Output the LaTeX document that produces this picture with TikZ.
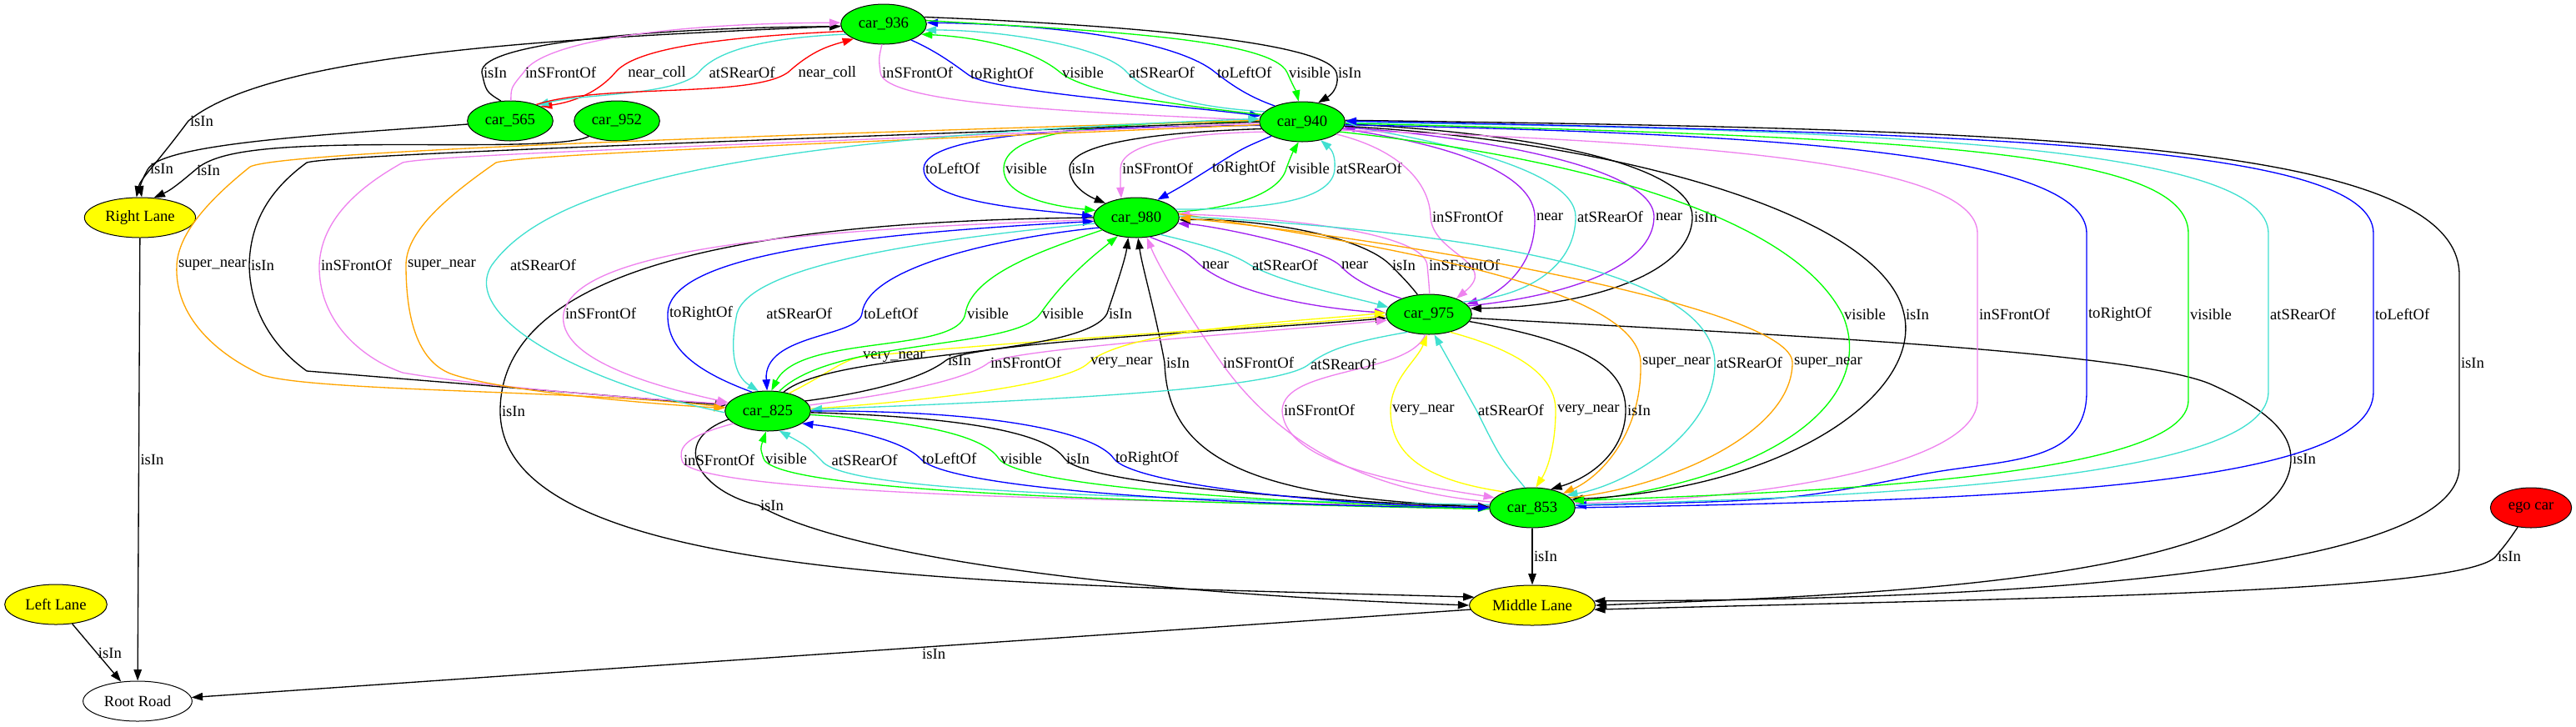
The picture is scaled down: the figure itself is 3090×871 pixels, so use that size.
\documentclass[tikz,border=0pt]{standalone}
\usepackage{fontspec}
\setmainfont{Liberation Serif}
\usetikzlibrary{shapes.geometric,arrows.meta}
\definecolor{gvgreen}{HTML}{00FF00}
\definecolor{gvyellow}{HTML}{FFFF00}
\definecolor{gvred}{HTML}{FF0000}
\definecolor{gvviolet}{HTML}{EE82EE}
\definecolor{gvturq}{HTML}{40E0D0}
\definecolor{gvblue}{HTML}{0000FF}
\definecolor{gvpurple}{HTML}{A020F0}
\definecolor{gvorange}{HTML}{FFA500}
\begin{document}
\begin{tikzpicture}[x=0.75bp,y=-0.75bp,
  every node/.style={font=\fontsize{14bp}{16bp}\selectfont},
  car/.style={ellipse,draw,line width=0.75bp,fill=gvgreen,minimum width=77bp,minimum height=36bp,inner sep=0pt},
  egocar/.style={car,fill=gvred,minimum width=73bp},
  lane/.style={ellipse,draw,line width=0.75bp,fill=gvyellow,minimum height=36bp,inner sep=0pt},
  road/.style={ellipse,draw,line width=0.75bp,fill=white,minimum width=98bp,minimum height=36bp,inner sep=0pt},
  lbl/.style={anchor=west,inner sep=1bp,text=black},
  rel/.style={line width=1bp,-{Triangle[length=10bp,width=7bp]}},
  isin/.style={rel,black},
  infront/.style={rel,gvviolet},
  atrear/.style={rel,gvturq},
  toleft/.style={rel,gvblue},
  toright/.style={rel,gvblue},
  vis/.style={rel,gvgreen},
  nearr/.style={rel,gvpurple},
  nearcoll/.style={rel,gvred},
  supernear/.style={rel,gvorange},
  verynear/.style={rel,gvyellow}]
\useasboundingbox (0,0) rectangle (3090,871);

\node[car] (c936) at (1060,29) {car\_936};
\node[car] (c565) at (612,145) {car\_565};
\node[car] (c952) at (740,145) {car\_952};
\node[car] (c940) at (1562,146) {car\_940};
\node[car] (c980) at (1363,261) {car\_980};
\node[car] (c975) at (1714,377) {car\_975};
\node[car] (c825) at (921,493) {car\_825};
\node[car] (c853) at (1838,609) {car\_853};
\node[egocar] (ego) at (3036,609) {ego car};
\node[lane,minimum width=100bp] (rlane) at (168,261) {Right Lane};
\node[lane,minimum width=113bp] (mlane) at (1838,726) {Middle Lane};
\node[lane,minimum width=92bp] (llane) at (67,725) {Left Lane};
\node[road] (road) at (165,841) {Root Road};

\draw[isin] (c936) .. controls (700,45) and (330,60) .. (226,145) node[lbl]{isIn} .. controls (185,200) and (168,215) .. (rlane.100);
\draw[isin] (c565) .. controls (420,160) and (200,170) .. (178,202) node[lbl]{isIn} .. controls (170,215) and (168,225) .. (rlane.85);
\draw[isin] (c952) .. controls (680,178) and (520,172) .. (420,174) .. controls (300,176) and (255,185) .. (234,204) node[lbl]{isIn} .. controls (215,220) and (205,228) .. (rlane.55);
\draw[isin] (rlane) -- (road) node[lbl,midway]{isIn};
\draw[isin] (llane) -- (road) node[lbl,midway]{isIn};
\draw[isin] (mlane) -- (road) node[lbl,pos=0.43,anchor=north west]{isIn};
\draw[isin] (c853) -- (mlane) node[lbl,midway]{isIn};
\draw[isin] (c980.180) .. controls (900,265) and (600,320) .. (600,493) node[lbl]{isIn} .. controls (600,700) and (1200,700) .. (mlane.172);
\draw[isin] (c825.192) .. controls (800,530) and (840,590) .. (910,606) node[lbl]{isIn} .. controls (1000,660) and (1300,710) .. (mlane.180);
\draw[isin] (c940.2) .. controls (2400,155) and (2950,165) .. (2950,330) -- (2950,435) node[lbl]{isIn} -- (2950,560) .. controls (2950,700) and (2300,720) .. (mlane.4);
\draw[isin] (c975.-5) .. controls (2100,400) and (2550,420) .. (2650,460) .. controls (2730,495) and (2748,525) .. (2748,550) node[lbl]{isIn} .. controls (2748,700) and (2200,715) .. (mlane.0);
\draw[isin] (ego) .. controls (3008,650) .. (2994,667) node[lbl]{isIn} .. controls (2960,712) and (2400,718) .. (mlane.-4);

\draw[isin] (c565.115) .. controls (583,110) .. (578,87) node[lbl]{isIn} .. controls (574,50) and (800,33) .. (c936.183);
\draw[infront] (c565.88) .. controls (613,105) .. (628,87) node[lbl]{inSFrontOf} .. controls (650,50) and (800,28) .. (c936.178);
\draw[nearcoll] (c936.190) .. controls (850,45) and (760,60) .. (738,87) node[lbl,xshift=10bp]{near\_coll} .. controls (718,110) and (690,122) .. (c565.25);
\draw[atrear] (c936.195) .. controls (920,45) and (860,60) .. (838,87) node[lbl,xshift=8bp]{atSRearOf} .. controls (812,115) and (700,112) .. (c565.30);
\draw[nearcoll] (c565.32) .. controls (720,100) and (900,118) .. (945,87) node[lbl,xshift=8bp]{near\_coll} .. controls (975,60) and (995,55) .. (c936.206);

\draw[infront] (c936.265) .. controls (1054,70) .. (1056,87) node[lbl]{inSFrontOf} .. controls (1060,125) and (1300,135) .. (c940.178);
\draw[toright] (c936.-30) .. controls (1125,62) and (1148,80) .. (1162,90) node[lbl]{toRightOf} .. controls (1190,110) and (1400,125) .. (c940.172);
\draw[vis] (c940.170) .. controls (1400,125) and (1300,110) .. (1272,87) node[lbl]{visible} .. controls (1240,60) and (1180,45) .. (c936.-15);
\draw[atrear] (c940.165) .. controls (1420,128) and (1375,110) .. (1352,87) node[lbl]{atSRearOf} .. controls (1325,55) and (1200,36) .. (c936.-8);
\draw[toleft] (c940.150) .. controls (1495,115) and (1475,100) .. (1458,87) node[lbl]{toLeftOf} .. controls (1420,55) and (1300,30) .. (c936.2);
\draw[vis] (c936.5) .. controls (1300,36) and (1525,45) .. (1544,87) node[lbl]{visible} .. controls (1551,103) and (1555,110) .. (c940.100);
\draw[isin] (c936.10) .. controls (1350,30) and (1592,50) .. (1603,87) node[lbl]{isIn} .. controls (1607,100) and (1600,112) .. (c940.50);

\draw[toleft] (c940.185) .. controls (1300,152) and (1110,160) .. (1108,202) node[lbl]{toLeftOf} .. controls (1107,245) and (1250,252) .. (c980.178);
\draw[vis] (c940.180) .. controls (1300,146) and (1205,160) .. (1204,202) node[lbl]{visible} .. controls (1203,235) and (1260,247) .. (c980.170);
\draw[isin] (c940.190) .. controls (1400,158) and (1284,170) .. (1283,202) node[lbl]{isIn} .. controls (1283,220) and (1300,233) .. (c980.155);
\draw[infront] (c940.195) .. controls (1420,160) and (1345,172) .. (1344,202) node[lbl]{inSFrontOf} .. controls (1344,215) and (1344,225) .. (c980.128);
\draw[toright] (c940.205) .. controls (1490,178) .. (1452,202) node[lbl]{toRightOf} .. controls (1420,222) .. (c980.40);
\draw[vis] (c980.8) .. controls (1480,250) and (1535,232) .. (1543,202) node[lbl]{visible} .. controls (1548,188) and (1552,180) .. (c940.-100);
\draw[atrear] (c980.12) .. controls (1520,252) and (1600,240) .. (1601,202) node[lbl]{atSRearOf} .. controls (1602,188) and (1598,180) .. (c940.-45);

\draw[infront] (c940.-20) .. controls (1680,180) and (1715,220) .. (1716,260) node[lbl]{inSFrontOf} .. controls (1718,305) and (1800,315) .. (c975.30);
\draw[nearr] (c940.-10) .. controls (1750,175) and (1840,210) .. (1841,260) node[lbl]{near} .. controls (1843,320) and (1800,352) .. (c975.15);
\draw[atrear] (c975.20) .. controls (1840,355) and (1890,315) .. (1890,260) node[lbl]{atSRearOf} .. controls (1890,200) and (1700,165) .. (c940.-5);
\draw[nearr] (c975.12) .. controls (1880,355) and (1984,320) .. (1984,260) node[lbl]{near} .. controls (1984,190) and (1700,158) .. (c940.-8);
\draw[isin] (c940.-3) .. controls (1850,160) and (2030,200) .. (2030,260) node[lbl]{isIn} .. controls (2030,330) and (1900,368) .. (c975.8);

\draw[nearr] (c980.-55) .. controls (1420,300) .. (1440,318) node[lbl]{near} .. controls (1480,352) and (1580,370) .. (c975.178);
\draw[atrear] (c980.-35) .. controls (1450,295) and (1480,305) .. (1500,318) node[lbl]{atSRearOf} .. controls (1540,340) and (1620,356) .. (c975.170);
\draw[nearr] (c975.150) .. controls (1640,345) and (1620,332) .. (1607,318) node[lbl]{near} .. controls (1580,295) and (1450,270) .. (c980.-8);
\draw[isin] (c975.120) .. controls (1690,340) and (1680,330) .. (1668,318) node[lbl]{isIn} .. controls (1630,280) and (1500,262) .. (c980.-3);
\draw[infront] (c975.88) .. controls (1714,340) .. (1712,318) node[lbl]{inSFrontOf} .. controls (1708,280) and (1550,262) .. (c980.5);

\draw[vis] (c940.-15) .. controls (1900,190) and (2150,260) .. (2210,377) node[lbl]{visible} .. controls (2250,470) and (2150,570) .. (c853.8);
\draw[isin] (c940.-6) .. controls (1950,170) and (2260,260) .. (2284,377) node[lbl]{isIn} .. controls (2305,470) and (2150,585) .. (c853.12);
\draw[infront] (c940.-12) .. controls (2000,170) and (2372,190) .. (2372,280) -- (2372,377) node[lbl]{inSFrontOf} -- (2372,480) .. controls (2372,560) and (2100,600) .. (c853.6);
\draw[toright] (c940.-4) .. controls (2100,160) and (2503,180) .. (2503,280) -- (2503,377) node[lbl]{toRightOf} -- (2503,470) .. controls (2503,560) and (2400,550) .. (2300,570) .. controls (2150,600) .. (c853.3);
\draw[vis] (c940.-2) .. controls (2300,165) and (2625,180) .. (2625,280) -- (2625,377) node[lbl]{visible} -- (2625,480) .. controls (2625,570) and (2200,590) .. (c853.10);
\draw[atrear] (c853.4) .. controls (2300,595) and (2721,570) .. (2721,470) -- (2721,377) node[lbl]{atSRearOf} -- (2721,280) .. controls (2721,180) and (2300,155) .. (c940.-1);
\draw[toleft] (c853.0) .. controls (2400,600) and (2847,585) .. (2847,470) -- (2847,377) node[lbl]{toLeftOf} -- (2847,280) .. controls (2847,175) and (2400,160) .. (c940.1);

\draw[isin] (c853.178) .. controls (1480,600) and (1400,540) .. (1397,435) node[lbl]{isIn} .. controls (1385,370) and (1370,320) .. (c980.-85);
\draw[infront] (c853.172) .. controls (1650,590) and (1540,540) .. (1465,435) node[lbl]{inSFrontOf} .. controls (1420,370) and (1390,320) .. (c980.-62);
\draw[supernear] (c980.5) .. controls (1700,300) and (1966,350) .. (1968,435) node[lbl]{super\_near} .. controls (1970,520) and (1920,572) .. (c853.25);
\draw[atrear] (c980.2) .. controls (1800,280) and (2055,330) .. (2057,435) node[lbl]{atSRearOf} .. controls (2058,520) and (1950,582) .. (c853.20);
\draw[supernear] (c853.15) .. controls (2000,585) and (2150,520) .. (2150,435) node[lbl]{super\_near} .. controls (2150,370) and (1700,290) .. (c980.0);

\draw[infront] (c975.-100) .. controls (1690,450) and (1540,440) .. (1538,492) node[lbl]{inSFrontOf} .. controls (1540,560) and (1700,582) .. (c853.165);
\draw[verynear] (c853.150) .. controls (1700,575) and (1668,540) .. (1668,492) node[lbl]{very\_near} .. controls (1668,455) and (1700,432) .. (c975.-95);
\draw[atrear] (c853.110) .. controls (1800,550) .. (1771,492) node[lbl]{atSRearOf} .. controls (1745,445) .. (c975.-75);
\draw[verynear] (c975.-40) .. controls (1820,420) and (1866,450) .. (1866,492) node[lbl]{very\_near} .. controls (1866,530) and (1858,560) .. (c853.80);
\draw[isin] (c975.-10) .. controls (1900,410) and (1950,440) .. (1950,492) node[lbl]{isIn} .. controls (1950,540) and (1910,572) .. (c853.45);

\draw[verynear] (c825.40) .. controls (990,450) and (1010,432) .. (1033,428) node[lbl]{very\_near} .. controls (1200,410) and (1550,390) .. (c975.182);
\draw[isin] (c825.15) .. controls (1050,470) and (1110,452) .. (1135,432) node[lbl]{isIn} .. controls (1170,410) and (1500,396) .. (c975.185);
\draw[infront] (c825.8) .. controls (1080,472) and (1160,455) .. (1186,435) node[lbl]{inSFrontOf} .. controls (1220,418) and (1500,400) .. (c975.188);
\draw[verynear] (c825.3) .. controls (1100,482) and (1280,462) .. (1306,435) node[lbl]{very\_near} .. controls (1350,395) and (1550,386) .. (c975.178);
\draw[atrear] (c975.-140) .. controls (1620,410) and (1592,420) .. (1570,437) node[lbl]{atSRearOf} .. controls (1530,470) and (1200,482) .. (c825.2);

\draw[infront] (c980.183) .. controls (950,275) and (690,300) .. (676,376) node[lbl]{inSFrontOf} .. controls (668,430) and (780,462) .. (c825.168);
\draw[toright] (c825.130) .. controls (820,440) and (800,410) .. (801,376) node[lbl]{toRightOf} .. controls (803,310) and (1000,282) .. (c980.185);
\draw[atrear] (c980.188) .. controls (1100,288) and (900,320) .. (884,376) node[lbl,xshift=25bp]{atSRearOf} .. controls (875,420) and (880,450) .. (c825.115);
\draw[toleft] (c980.195) .. controls (1200,285) and (1040,320) .. (1034,376) node[lbl]{toLeftOf} .. controls (1030,405) and (915,400) .. (c825.92);
\draw[vis] (c980.200) .. controls (1250,300) and (1165,330) .. (1158,376) node[lbl]{visible} .. controls (1150,425) and (960,400) .. (c825.80);
\draw[vis] (c825.60) .. controls (1000,405) and (1220,420) .. (1248,376) node[lbl]{visible} .. controls (1280,330) and (1320,300) .. (c980.-135);
\draw[isin] (c825.50) .. controls (1000,420) and (1300,430) .. (1328,376) node[lbl]{isIn} .. controls (1340,340) and (1350,310) .. (c980.-112);

\draw[infront] (c825.200) .. controls (815,525) and (815,540) .. (818,552) node[lbl]{inSFrontOf} .. controls (825,595) and (1400,602) .. (c853.178);
\draw[vis] (c853.182) .. controls (1400,602) and (930,592) .. (916,550) node[lbl]{visible} .. controls (912,538) .. (c825.-95);
\draw[atrear] (c853.176) .. controls (1300,597) and (1010,588) .. (985,552) node[lbl,xshift=8bp]{atSRearOf} .. controls (968,535) .. (c825.-60);
\draw[toleft] (c853.180) .. controls (1400,606) and (1130,582) .. (1104,550) node[lbl]{toLeftOf} .. controls (1080,525) and (1000,512) .. (c825.-20);
\draw[vis] (c825.-5) .. controls (1100,505) and (1180,522) .. (1198,550) node[lbl]{visible} .. controls (1220,582) and (1500,602) .. (c853.181);
\draw[isin] (c825.-2) .. controls (1150,500) and (1255,518) .. (1277,550) node[lbl]{isIn} .. controls (1300,582) and (1600,602) .. (c853.179);
\draw[toright] (c825.0) .. controls (1200,492) and (1315,520) .. (1336,550) node[lbl]{toRightOf} .. controls (1360,582) and (1600,606) .. (c853.180);

\draw[supernear] (c940.178) .. controls (1000,160) and (340,180) .. (300,200) .. controls (250,240) and (214,280) .. (212,318) node[lbl]{super\_near} .. controls (209,380) and (260,425) .. (315,450) .. controls (380,470) and (700,468) .. (c825.175);
\draw[isin] (c940.180) .. controls (1000,165) and (400,185) .. (368,195) .. controls (320,230) and (300,270) .. (299,318) node[lbl]{isIn} .. controls (300,385) and (340,425) .. (368,445) -- (c825.172);
\draw[infront] (c940.182) .. controls (1000,170) and (520,185) .. (483,195) .. controls (420,230) and (385,270) .. (383,318) node[lbl]{inSFrontOf} .. controls (382,390) and (440,432) .. (483,447) .. controls (600,467) and (800,480) .. (c825.170);
\draw[supernear] (c940.184) .. controls (1000,172) and (630,185) .. (595,195) .. controls (530,240) and (487,280) .. (487,318) node[lbl]{super\_near} .. controls (487,380) and (500,432) .. (540,448) .. controls (600,470) and (800,486) .. (c825.176);
\draw[atrear] (c825.182) .. controls (700,460) and (550,380) .. (590,318) node[lbl,xshift=15bp]{atSRearOf} .. controls (660,220) and (900,165) .. (c940.176);
\end{tikzpicture}
\end{document}
